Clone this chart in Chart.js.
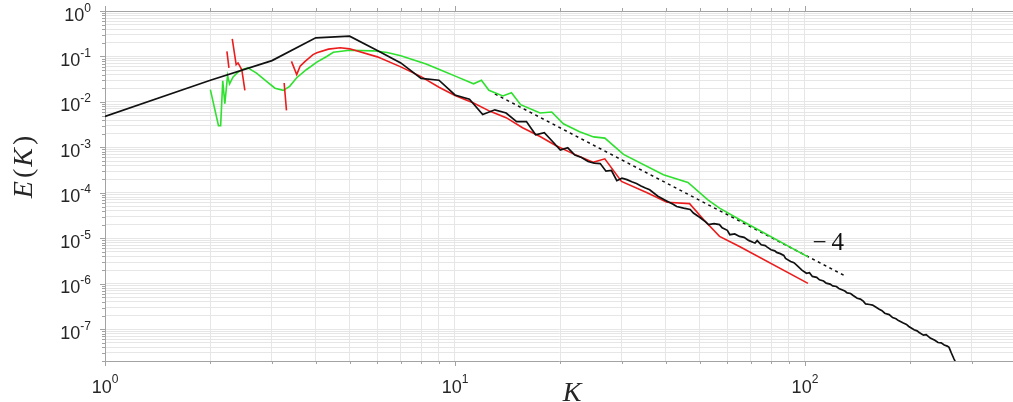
<!DOCTYPE html>
<html>
<head>
<meta charset="utf-8">
<script src="https://cdn.jsdelivr.net/npm/chart.js@4"></script>
<style>
  html, body { margin: 0; padding: 0; background: #fff; }
</style>
</head>
<body>
<canvas id="spectrum" width="1013" height="402"></canvas>
<script>
// energy spectra E(K)
const blackK = [1, 2, 3, 4, 5, 6, 7, 8, 9, 10,
  11, 12, 13, 14, 15, 16, 17, 18, 19, 20,
  21, 22, 23, 24, 25, 26, 27, 28, 29, 30,
  31, 32, 33, 34, 35, 36, 38, 40, 42, 43,
  45, 47, 48, 50, 52, 53, 55, 57, 58, 60,
  61, 63, 65, 67, 69, 71, 72, 73, 75, 77,
  78, 80, 82, 83, 85, 87, 88, 91, 93, 95,
  98, 101, 103, 105, 108, 110, 113, 115, 118, 120,
  123, 125, 127, 130, 132, 135, 137, 141, 144, 147,
  149, 153, 156, 158, 163, 166, 169, 174, 178, 182,
  185, 191, 195, 198, 205, 209, 212, 218, 222, 228,
  235, 240, 245, 250, 255, 258, 262, 266, 270];
const blackE = [4.8e-3, 3.0e-2, 8.1e-2, 0.257, 0.279, 0.135, 0.072, 0.033, 0.030, 0.0142,
  0.0115, 0.0053, 0.0067, 0.0057, 0.0037, 0.0037, 0.0019, 0.0021, 0.00135, 0.00087,
  0.00098, 0.00068, 0.00060, 0.00049, 0.00045, 0.00044, 0.00030, 0.00031, 0.000185, 0.00021,
  0.000195, 0.000175, 0.00016, 0.000142, 0.000128, 0.000117, 8.4e-5, 6.8e-5, 5.6e-5, 5.0e-5,
  4.6e-5, 4.3e-5, 3.6e-5, 2.9e-5, 2.3e-5, 2.0e-5, 2.1e-5, 2.0e-5, 1.7e-5, 1.5e-5,
  1.2e-5, 1.25e-5, 1.1e-5, 1.05e-5, 9.0e-6, 8.2e-6, 7.9e-6, 8.9e-6, 7.2e-6, 6.9e-6,
  6.4e-6, 5.6e-6, 5.3e-6, 4.9e-6, 4.6e-6, 4.2e-6, 3.6e-6, 3.1e-6, 2.9e-6, 2.5e-6,
  2.0e-6, 1.7e-6, 1.75e-6, 1.45e-6, 1.38e-6, 1.22e-6, 1.15e-6, 1.03e-6, 9.8e-7, 9.0e-7,
  8.7e-7, 7.9e-7, 7.5e-7, 6.9e-7, 6.3e-7, 6.1e-7, 5.6e-7, 4.8e-7, 4.6e-7, 4.1e-7,
  3.6e-7, 3.5e-7, 3.4e-7, 3.2e-7, 2.75e-7, 2.55e-7, 2.25e-7, 2.1e-7, 1.8e-7, 1.7e-7,
  1.55e-7, 1.37e-7, 1.28e-7, 1.15e-7, 9.7e-8, 9.2e-8, 8.5e-8, 7.4e-8, 7.6e-8, 6.4e-8,
  5.7e-8, 5.1e-8, 5.0e-8, 4.5e-8, 4.25e-8, 4.0e-8, 3.0e-8, 2.3e-8, 1.8e-8];

// red: null = gap (value not plotted on the log axis)
const redK = [2.23, 2.26, 2.285, 2.31, 2.37, 2.40, 2.46, 2.51, 2.9, 3.25,
  3.30, 3.35, 3.41, 3.53, 3.61, 3.73, 3.93, 4.03, 4.35, 4.7,
  5.0, 6, 7, 8, 9, 10, 11.3, 12.6, 14, 15.6,
  17.5, 19.4, 21.8, 24.8, 26.8, 29.9, 35.4, 40.3, 46.8, 51.3,
  57, 65, 102];
const redE = [0.13, 0.056, null, 0.244, 0.066, 0.072, 0.051, 0.018, null, 0.026,
  0.0065, null, 0.078, 0.040, 0.061, 0.078, 0.11, 0.12, 0.145, 0.155,
  0.147, 0.098, 0.059, 0.036, 0.021, 0.0138, 0.0095, 0.0062, 0.0045, 0.0027,
  0.00174, 0.0011, 0.00072, 0.00047, 0.00056, 0.000178, 0.0001, 6.2e-5, 5.8e-5, 2.6e-5,
  1.1e-5, 6.6e-6, 1.02e-6];

const greenK = [2.0, 2.11, 2.14, 2.17, 2.20, 2.24, 2.27, 2.32, 2.39, 2.46,
  2.56, 2.71, 2.90, 3.06, 3.23, 3.37, 3.53, 3.76, 4.03, 4.30,
  4.49, 5.0, 5.84, 6.4, 7, 8.27, 9.06, 10.1, 11.3, 11.9,
  12.5, 13.7, 14.5, 15.4, 17.5, 18.9, 20.4, 22.7, 24.9, 26.8,
  30.3, 39.4, 46.3, 52.8, 57, 65, 102];
const greenE = [0.0187, 0.003, 0.003, 0.029, 0.0092, 0.038, 0.025, 0.035, 0.044, 0.051,
  0.056, 0.043, 0.028, 0.020, 0.018, 0.022, 0.034, 0.051, 0.075, 0.10,
  0.124, 0.137, 0.133, 0.122, 0.104, 0.068, 0.051, 0.036, 0.025, 0.030,
  0.018, 0.0135, 0.0159, 0.0087, 0.0057, 0.006, 0.0033, 0.0022, 0.0017, 0.0016,
  0.0007, 0.00025, 0.00017, 7.0e-5, 4.6e-5, 2.6e-5, 3.9e-6];

// K^-4 reference slope
const refK = [13, 130];
const refE = [0.015, 1.5e-6];
const slopeLabel = { minus: '\u2212', digit: '4', k: 105, e: 5.6e-6 };

const xTickExps = [0, 1, 2];
const yTickExps = [0, -1, -2, -3, -4, -5, -6, -7];
const xRange = [1, 393];
const yRange = [2e-8, 1];

function pts(ks, es) {
  return ks.map((k, i) => ({ x: k, y: es[i] }));
}

// 1..9 x 10^n gridline positions inside [lo, hi]
function logGrid(lo, hi) {
  const out = [];
  for (let e = Math.floor(Math.log10(lo)); e <= Math.ceil(Math.log10(hi)); e++) {
    for (let m = 1; m <= 9; m++) {
      const v = m * Math.pow(10, e);
      if (v >= lo * 0.999 && v <= hi * 1.001) out.push({ value: v });
    }
  }
  return out;
}

const AXIS = '#a3a3a3';
const TEXT = '#262626';
const SANS = '"Liberation Sans", Arial, sans-serif';
const SERIF = '"Liberation Serif", "Times New Roman", serif';

function drawPower(ctx, exp, x, baseY, supY, align) {
  ctx.font = '18px ' + SANS;
  const w1 = ctx.measureText('10').width;
  ctx.font = '12px ' + SANS;
  const sup = String(exp);
  const w2 = ctx.measureText(sup).width;
  const left = align === 'right' ? x - w1 - w2 : x - (w1 + w2) / 2;
  ctx.textAlign = 'left';
  ctx.font = '18px ' + SANS;
  ctx.fillText('10', left, baseY);
  ctx.font = '12px ' + SANS;
  ctx.fillText(sup, left + w1, supY);
}

const decorPlugin = {
  id: 'decor',
  afterDraw(chart) {
    const { ctx, chartArea: a, scales: { x, y } } = chart;
    ctx.save();

    // box top edge and outward tick marks
    ctx.strokeStyle = AXIS;
    ctx.lineWidth = 1;
    ctx.beginPath();
    ctx.moveTo(a.left, a.top + 0.5);
    ctx.lineTo(a.right, a.top + 0.5);
    x.ticks.forEach(t => {
      const px = Math.round(x.getPixelForValue(t.value)) + 0.5;
      const len = xTickExps.some(e => Math.abs(Math.pow(10, e) - t.value) < 1e-9) ? 5 : 3;
      ctx.moveTo(px, a.bottom); ctx.lineTo(px, a.bottom + len);
      ctx.moveTo(px, a.top); ctx.lineTo(px, a.top - len);
    });
    y.ticks.forEach(t => {
      const py = Math.round(y.getPixelForValue(t.value)) + 0.5;
      const isMajor = yTickExps.some(e => Math.abs(Math.log10(t.value) - e) < 1e-6);
      const len = isMajor ? 5 : 3;
      ctx.moveTo(a.left, py); ctx.lineTo(a.left - len, py);
    });
    ctx.stroke();

    // tick labels 10^n
    ctx.fillStyle = TEXT;
    ctx.textBaseline = 'alphabetic';
    yTickExps.forEach(e => {
      const py = y.getPixelForValue(Math.pow(10, e));
      drawPower(ctx, e, 91, py + 9.5, py + 0.5, 'right');
    });
    xTickExps.forEach(e => {
      const px = x.getPixelForValue(Math.pow(10, e));
      drawPower(ctx, e, px, 393, 383, 'center');
    });

    // axis titles in LaTeX style
    const ital = 'italic 28px ' + SERIF;
    const roman = '28px ' + SERIF;
    const parts = [['E', ital, 3], ['(', roman, 2], ['K', ital, 3], [')', roman, 0]];
    let total = 0;
    parts.forEach(p => { ctx.font = p[1]; total += ctx.measureText(p[0]).width + p[2]; });
    ctx.save();
    ctx.translate(32, 167);
    ctx.rotate(-Math.PI / 2);
    let cx = -total / 2;
    parts.forEach(p => {
      ctx.font = p[1];
      ctx.fillText(p[0], cx, 0);
      cx += ctx.measureText(p[0]).width + p[2];
    });
    ctx.restore();

    ctx.font = ital;
    ctx.textAlign = 'center';
    ctx.fillText('K', 572, 401);

    // slope annotation
    ctx.font = '25px ' + SERIF;
    ctx.textAlign = 'left';
    ctx.fillStyle = '#111';
    const lx = x.getPixelForValue(slopeLabel.k);
    const ly = y.getPixelForValue(slopeLabel.e);
    ctx.fillText(slopeLabel.minus, lx, ly);
    ctx.fillText(slopeLabel.digit, lx + ctx.measureText(slopeLabel.minus).width + 5, ly);
    ctx.restore();
  }
};

new Chart(document.getElementById('spectrum'), {
  type: 'line',
  data: {
    datasets: [
      { data: pts(blackK, blackE), borderColor: '#111111', borderWidth: 1.7 },
      { data: pts(redK, redE), borderColor: '#ec1c1c', borderWidth: 1.6, spanGaps: false },
      { data: pts(greenK, greenE), borderColor: '#2fe02f', borderWidth: 1.6 },
      { data: pts(refK, refE), borderColor: '#111111', borderWidth: 1.5, borderDash: [3, 3.5] }
    ]
  },
  options: {
    responsive: false,
    animation: false,
    layout: { padding: { top: 11, right: 0, left: 0, bottom: 0 } },
    elements: { point: { radius: 0 }, line: { tension: 0 } },
    plugins: { legend: { display: false }, tooltip: { enabled: false } },
    scales: {
      x: {
        type: 'logarithmic',
        min: xRange[0],
        max: xRange[1],
        ticks: { display: false },
        grid: { color: '#e6e6e6', drawTicks: false },
        border: { color: AXIS },
        afterBuildTicks: s => { s.ticks = logGrid(xRange[0], xRange[1]); },
        afterFit: s => { s.height = 41; }
      },
      y: {
        type: 'logarithmic',
        min: yRange[0],
        max: yRange[1],
        ticks: { display: false },
        grid: { color: '#e6e6e6', drawTicks: false },
        border: { color: AXIS },
        afterBuildTicks: s => { s.ticks = logGrid(yRange[0], yRange[1]); },
        afterFit: s => { s.width = 105; }
      }
    }
  },
  plugins: [decorPlugin]
});
</script>
</body>
</html>
